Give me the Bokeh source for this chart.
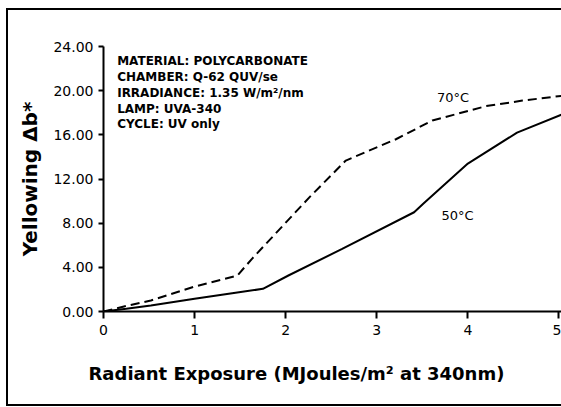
from bokeh.plotting import figure
from bokeh.models import FixedTicker, Range1d, Title
from bokeh.core.properties import value
from bokeh.embed import file_html
from bokeh.resources import INLINE

# Data
exposure_50 = [0.0, 0.25, 0.52, 1.0, 1.45, 1.75, 2.03, 2.62, 3.41, 3.51, 4.0, 4.54, 5.05]
yellow_50 = [0.0, 0.25, 0.54, 1.15, 1.7, 2.05, 3.26, 5.67, 8.99, 9.75, 13.4, 16.2, 17.9]

exposure_70 = [0.0, 0.25, 0.52, 1.0, 1.47, 1.63, 2.26, 2.66, 3.21, 3.61, 4.2, 4.6, 5.05]
yellow_70 = [0.0, 0.5, 1.0, 2.26, 3.26, 4.77, 10.34, 13.67, 15.6, 17.3, 18.6, 19.1, 19.55]

series_names = ["70°C", "50°C"]
series_label_x = [3.66, 3.71]
series_label_y = [19.4, 8.7]

info_lines = [
    "MATERIAL: POLYCARBONATE",
    "CHAMBER: Q-62 QUV/se",
    "IRRADIANCE: 1.35 W/m²/nm",
    "LAMP: UVA-340",
    "CYCLE: UV only",
]
info_x = [0.15] * 5
info_y = [22.7, 21.27, 19.82, 18.37, 16.95]

x_ticks = [0, 1, 2, 3, 4, 5]
y_ticks = [0, 4, 8, 12, 16, 20, 24]
y_tick_labels = ["0.00", "4.00", "8.00", "12.00", "16.00", "20.00", "24.00"]
x_title = "Radiant Exposure (MJoules/m² at 340nm)"
y_title = "Yellowing Δb*"

p = figure(width=555, height=398, output_backend="svg", toolbar_location=None,
           x_range=Range1d(0, 5.05), y_range=Range1d(0, 24),
           min_border_left=95, min_border_right=0, min_border_top=36, min_border_bottom=97)
p.styles = {"margin-left": "6px", "margin-top": "8px",
            "border-left": "2px solid black", "border-top": "2px solid black",
            "border-bottom": "2px solid black", "box-sizing": "border-box"}
p.outline_line_color = None
p.xgrid.grid_line_color = None
p.ygrid.grid_line_color = None
p.background_fill_color = "white"
p.border_fill_color = "white"

p.line(exposure_70, yellow_70, line_color="black", line_width=2, line_dash="9 5")
p.line(exposure_50, yellow_50, line_color="black", line_width=2)

p.text(series_label_x, series_label_y, text=series_names, text_font=value("DejaVu Sans"),
       text_font_size="13px", text_baseline="middle", text_align="left", text_color="black")
p.text(info_x, info_y, text=info_lines, text_font=value("DejaVu Sans"),
       text_font_size="12px", text_font_style="bold", text_baseline="middle",
       text_align="left", text_color="black")

# X axis
xa = p.xaxis[0]
xa.ticker = FixedTicker(ticks=x_ticks, num_minor_ticks=2)
xa.axis_line_width = 2
xa.major_tick_line_width = 2
xa.minor_tick_line_width = 2
xa.major_tick_out = 7
xa.major_tick_in = 0
xa.minor_tick_out = 7
xa.minor_tick_in = 0
xa.major_label_text_font = "DejaVu Sans"
xa.major_label_text_font_size = "14px"
xa.major_label_text_color = "black"
xa.major_label_standoff = 6

p.add_layout(Title(text=x_title, align="left", offset=-15, standoff=47,
                   text_font="DejaVu Sans", text_font_size="18px",
                   text_font_style="bold", text_color="black"), "below")

# Y axis
ya = p.yaxis[0]
ya.ticker = FixedTicker(ticks=y_ticks, num_minor_ticks=2)
ya.major_label_overrides = {t: s for t, s in zip(y_ticks, y_tick_labels)}
ya.axis_line_width = 2
ya.major_tick_line_width = 2
ya.minor_tick_line_width = 2
ya.major_tick_out = 5
ya.major_tick_in = 0
ya.minor_tick_out = 5
ya.minor_tick_in = 0
ya.major_label_text_font = "DejaVu Sans"
ya.major_label_text_font_size = "14px"
ya.major_label_text_color = "black"
ya.major_label_standoff = 5
ya.axis_label = y_title
ya.axis_label_text_font = "DejaVu Sans"
ya.axis_label_text_font_size = "20px"
ya.axis_label_text_font_style = "bold"
ya.axis_label_text_color = "black"
ya.axis_label_standoff = 8

open("out.html", "w").write(file_html(p, INLINE))
